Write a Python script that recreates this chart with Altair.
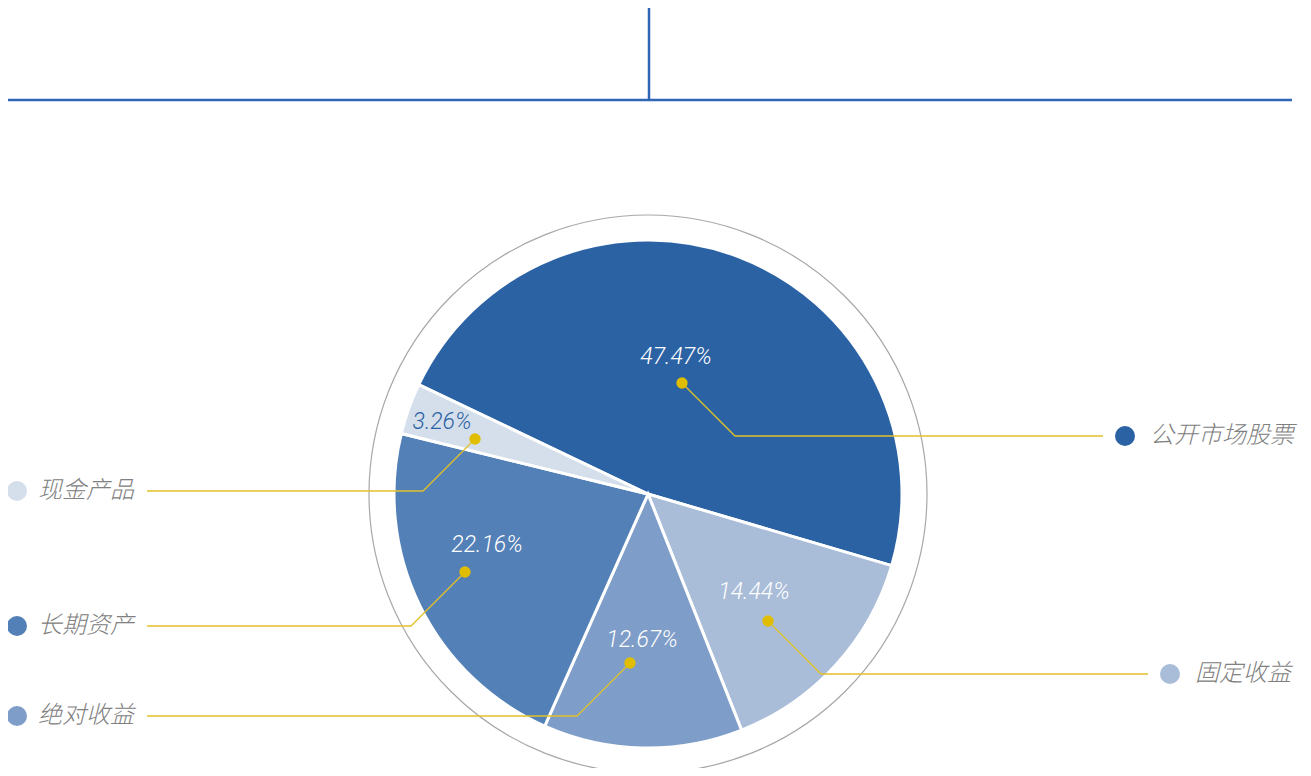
import math
import altair as alt
import pandas as pd

# ---- data ----
categories = ["公开市场股票", "固定收益", "绝对收益", "长期资产", "现金产品"]
shares = [47.47, 14.44, 12.67, 22.16, 3.26]
pct_labels = ["47.47%", "14.44%", "12.67%", "22.16%", "3.26%"]
slice_colors = ["#2b62a4", "#a9bdd9", "#7e9dc8", "#5380b6", "#d5dfeb"]
pct_colors = ["#ffffff", "#ffffff", "#ffffff", "#ffffff", "#2b62a4"]

# annotation anchors (page pixel units)
pct_x = [676, 754, 642, 487, 442]
pct_y = [357, 592, 640, 545, 422]
dot_x = [682, 768, 630, 465, 475]
dot_y = [383, 621, 663, 572, 439]
legend_side = [1, 1, -1, -1, -1]
legend_y = [436, 674, 716, 626, 491]
line_end_x = [1103, 1148, 147, 147, 147]

center = (648, 494)
pie_r = 254
ring_d = 558
start_deg = 295.5

W, H = 1295, 760
xs = alt.Scale(domain=[8, 8 + W], nice=False, zero=False)
ys = alt.Scale(domain=[8, 8 + H], nice=False, zero=False, reverse=True)
X = lambda f: alt.X(f, type="quantitative", scale=xs, axis=None)
Y = lambda f: alt.Y(f, type="quantitative", scale=ys, axis=None)

pie_df = pd.DataFrame({
    "cat": categories, "share": shares, "ord": list(range(len(categories))),
    "cx": center[0], "cy": center[1],
})
start = math.radians(start_deg)
pie = alt.Chart(pie_df).mark_arc(stroke="white", strokeWidth=3, radius=pie_r).encode(
    x=X("cx"), y=Y("cy"),
    theta=alt.Theta("share:Q", stack=True,
                    scale=alt.Scale(range=[start, start + 2 * math.pi])),
    order=alt.Order("ord:Q"),
    color=alt.Color("cat:N", scale=alt.Scale(domain=categories, range=slice_colors), legend=None),
)

ring = alt.Chart(pd.DataFrame({"cx": [center[0]], "cy": [center[1]]})).mark_point(
    shape="circle", size=ring_d ** 2, filled=False, stroke="#a8a8a8", strokeWidth=1.2, opacity=1
).encode(x=X("cx"), y=Y("cy"))

# leader lines
rows = []
for i, c in enumerate(categories):
    d = legend_y[i] - dot_y[i]
    ex = dot_x[i] + legend_side[i] * d
    pts = [(dot_x[i], dot_y[i]), (ex, legend_y[i]), (line_end_x[i], legend_y[i])]
    for k, (px, py) in enumerate(pts):
        rows.append({"cat": c, "step": k, "px": px, "py": py})
lines = alt.Chart(pd.DataFrame(rows)).mark_line(color="#e2c02a", strokeWidth=1.3).encode(
    x=X("px"), y=Y("py"), detail="cat:N", order="step:Q"
)

ann_df = pd.DataFrame({
    "cat": categories, "pct": pct_labels, "pcol": pct_colors,
    "tx": pct_x, "ty": pct_y, "dx": dot_x, "dy": dot_y,
    "ly": legend_y,
    "mx": [e + 22 if s > 0 else 17 for e, s in zip(line_end_x, legend_side)],
})
ann_df["lx"] = ann_df["mx"] + [25 if s > 0 else 21 for s in legend_side]

dots = alt.Chart(ann_df).mark_point(shape="circle", filled=True, size=130, color="#e0bd00", opacity=1).encode(
    x=X("dx"), y=Y("dy")
)
pct_text = alt.Chart(ann_df).mark_text(
    font="Roboto", fontSize=23, fontStyle="italic", fontWeight=300, baseline="middle", align="center"
).encode(x=X("tx"), y=Y("ty"), text="pct:N", color=alt.Color("pcol:N", scale=None))

markers = alt.Chart(ann_df).mark_point(shape="circle", filled=True, size=400, opacity=1).encode(
    x=X("mx"), y=Y("ly"),
    color=alt.Color("cat:N", scale=alt.Scale(domain=categories, range=slice_colors), legend=None),
)
legend_text = alt.Chart(ann_df).mark_text(
    font="Noto Sans CJK SC", fontSize=24, fontStyle="italic", fontWeight=300, color="#808080",
    align="left", baseline="middle"
).encode(x=X("lx"), y=Y("ly"), text="cat:N")

# header decoration
hdr = pd.DataFrame({
    "x1": [7, 649], "y1": [100, 8], "x2": [1292, 649], "y2": [100, 100],
    "w": [2.5, 2.5],
})
header = alt.Chart(hdr).mark_rule(color="#2f66b3").encode(
    x=X("x1"), y=Y("y1"), x2="x2", y2="y2", strokeWidth=alt.StrokeWidth("w:Q", scale=None)
)

chart = alt.layer(header, ring, pie, lines, dots, pct_text, markers, legend_text).properties(
    width=W, height=H, autosize=alt.AutoSizeParams(type="none"), padding=0
).configure_view(stroke=None)

chart.save("out.html", embed_options={"renderer": "svg", "actions": False})
